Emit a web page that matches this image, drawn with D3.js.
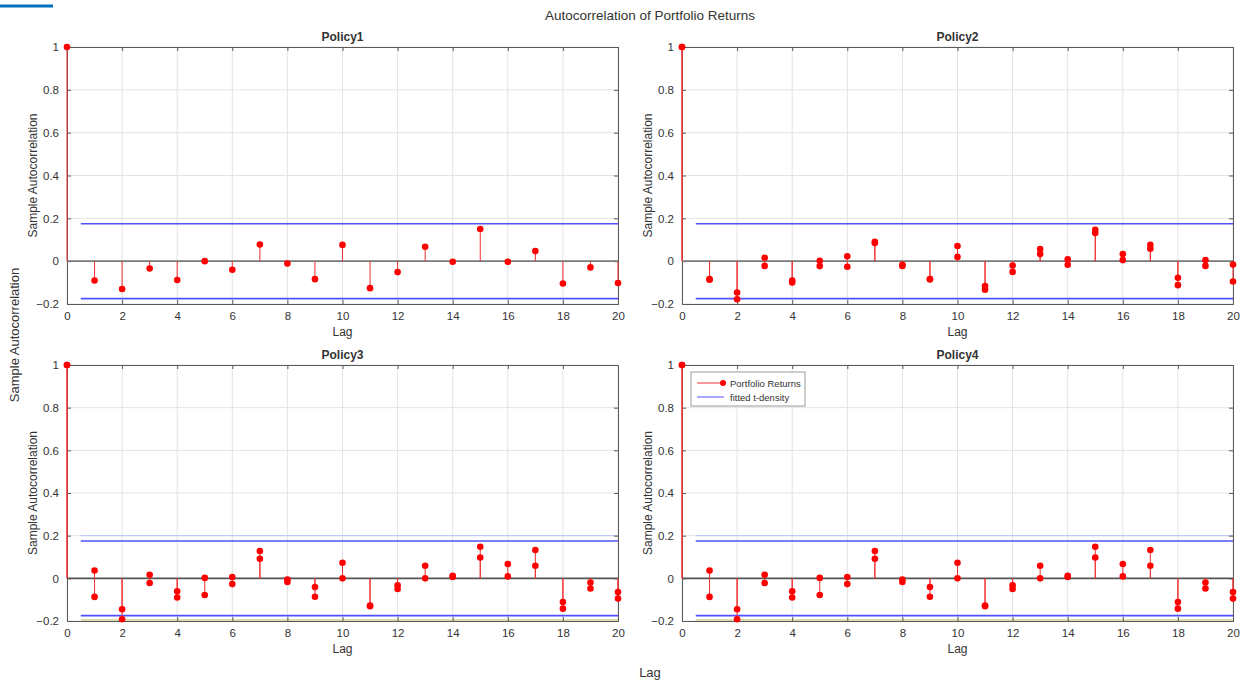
<!DOCTYPE html>
<html>
<head>
<meta charset="utf-8">
<script src="https://cdn.jsdelivr.net/npm/d3@7"></script>
<style>
  body { margin: 0; background: #fff; }
  svg text { font-family: "Liberation Sans", Arial, sans-serif; fill: #333; }
</style>
</head>
<body>
<div id="chart"></div>
<script>
const lags = d3.range(0, 21);
const yTicks = [-0.2, 0, 0.2, 0.4, 0.6, 0.8, 1];
const xTicks = d3.range(0, 21, 2);
const confBound = 0.175;

// Policy1: one series
const policy1A = [1, -0.09, -0.13, -0.034, -0.088, 0.0, -0.04, 0.078, -0.011, -0.084, 0.076,
                  -0.126, -0.051, 0.067, -0.003, 0.15, -0.003, 0.047, -0.104, -0.029, -0.102];
// Policy2: two series
const policy2A = [1, -0.084, -0.146, 0.016, -0.09, 0.002, 0.023, 0.09, -0.017, -0.084, 0.071,
                  -0.116, -0.02, 0.057, 0.009, 0.147, 0.033, 0.076, -0.078, 0.005, -0.016];
const policy2B = [1, -0.087, -0.178, -0.022, -0.1, -0.023, -0.026, 0.085, -0.022, -0.085, 0.02,
                  -0.133, -0.05, 0.033, -0.017, 0.132, 0.005, 0.058, -0.112, -0.022, -0.095];
// Policy3: two series
const policy3A = [1, 0.037, -0.145, 0.017, -0.061, 0.002, 0.006, 0.128, -0.006, -0.041, 0.073,
                  -0.127, -0.033, 0.059, 0.012, 0.148, 0.067, 0.133, -0.111, -0.02, -0.064];
const policy3B = [1, -0.087, -0.192, -0.022, -0.09, -0.078, -0.027, 0.092, -0.017, -0.086, 0.0,
                  -0.131, -0.05, 0.0, 0.006, 0.098, 0.009, 0.059, -0.142, -0.048, -0.095];
// Policy4: two series
const policy4A = [1, 0.037, -0.145, 0.017, -0.061, 0.002, 0.006, 0.128, -0.006, -0.041, 0.073,
                  -0.127, -0.033, 0.059, 0.012, 0.148, 0.067, 0.133, -0.111, -0.02, -0.064];
const policy4B = [1, -0.087, -0.192, -0.022, -0.09, -0.078, -0.027, 0.092, -0.017, -0.086, 0.0,
                  -0.131, -0.05, 0.0, 0.006, 0.098, 0.009, 0.059, -0.142, -0.048, -0.095];

const panelTitles = ["Policy1", "Policy2", "Policy3", "Policy4"];
const panelSeries = [[policy1A], [policy2A, policy2B], [policy3A, policy3B], [policy4A, policy4B]];

const width = 1248, height = 684;
const panelBoxes = [
    {x0: 67, x1: 618, y0: 47, y1: 304},
    {x0: 682, x1: 1233, y0: 47, y1: 304},
    {x0: 67, x1: 618, y0: 365, y1: 621},
    {x0: 682, x1: 1233, y0: 365, y1: 621}
];

const svg = d3.select("#chart").append("svg")
    .attr("width", width)
    .attr("height", height);

// little blue bar in the corner
svg.append("line")
    .attr("x1", 0).attr("x2", 53).attr("y1", 6).attr("y2", 6)
    .attr("stroke", "#0072bd").attr("stroke-width", 3);

svg.append("text")
    .attr("x", 650).attr("y", 20)
    .attr("text-anchor", "middle")
    .style("font-size", "13.5px")
    .text("Autocorrelation of Portfolio Returns");

svg.append("text")
    .attr("transform", "translate(19,335) rotate(-90)")
    .attr("text-anchor", "middle")
    .style("font-size", "13px")
    .text("Sample Autocorrelation");

svg.append("text")
    .attr("x", 650).attr("y", 677)
    .attr("text-anchor", "middle")
    .style("font-size", "13px")
    .text("Lag");

panelBoxes.forEach((b, i) => {
    const x = d3.scaleLinear().domain([0, 20]).range([b.x0, b.x1]);
    const y = d3.scaleLinear().domain([-0.2, 1]).range([b.y1, b.y0]);
    const g = svg.append("g");
    const bottomRow = i >= 2;

    // grid
    g.append("g").selectAll("line").data(xTicks).join("line")
        .attr("x1", d => x(d)).attr("x2", d => x(d))
        .attr("y1", b.y0).attr("y2", b.y1)
        .attr("stroke", "#e3e3e3");
    g.append("g").selectAll("line").data(yTicks).join("line")
        .attr("x1", b.x0).attr("x2", b.x1)
        .attr("y1", d => y(d)).attr("y2", d => y(d))
        .attr("stroke", "#e3e3e3");

    if (bottomRow) {
        g.append("line")
            .attr("x1", x(0.5)).attr("x2", x(20))
            .attr("y1", y(0.2)).attr("y2", y(0.2))
            .attr("stroke", "#b8c2ff").attr("stroke-width", 1);
        g.append("line")
            .attr("x1", x(0.5)).attr("x2", x(20))
            .attr("y1", y(-0.2) - 1).attr("y2", y(-0.2) - 1)
            .attr("stroke", "#d6cf96").attr("stroke-width", 1.5);
    }

    // axes with inward ticks
    const axB = g.append("g").attr("transform", `translate(0,${b.y1})`)
        .call(d3.axisBottom(x).tickValues(xTicks).tickSize(-4).tickPadding(8).tickFormat(d3.format("d")));
    const axL = g.append("g").attr("transform", `translate(${b.x0},0)`)
        .call(d3.axisLeft(y).tickValues(yTicks).tickSize(-4).tickPadding(8).tickFormat(d => d === 0 ? "0" : d3.format("")(+d.toFixed(1))));
    const axT = g.append("g").attr("transform", `translate(0,${b.y0})`)
        .call(d3.axisTop(x).tickValues(xTicks).tickSize(-4).tickFormat(""));
    const axR = g.append("g").attr("transform", `translate(${b.x1},0)`)
        .call(d3.axisRight(y).tickValues(yTicks).tickSize(-4).tickFormat(""));
    [axB, axL, axT, axR].forEach(a => {
        a.select(".domain").attr("stroke", "#5a5a5a");
        a.selectAll(".tick line").attr("stroke", "#5a5a5a");
        a.selectAll("text").style("font-size", "11.5px").attr("fill", "#333");
    });

    // zero line
    g.append("line")
        .attr("x1", b.x0).attr("x2", b.x1)
        .attr("y1", y(0)).attr("y2", y(0))
        .attr("stroke", bottomRow ? "#555" : "#7a7a7a").attr("stroke-width", 1.6);

    // confidence bounds
    [confBound, -confBound].forEach(c => {
        g.append("line")
            .attr("x1", x(0.5)).attr("x2", x(20))
            .attr("y1", y(c)).attr("y2", y(c))
            .attr("stroke", "#5050ff").attr("stroke-width", 1.6);
    });

    // stems and markers
    panelSeries[i].forEach(vals => {
        g.append("g").selectAll("line").data(lags).join("line")
            .attr("x1", d => x(d)).attr("x2", d => x(d))
            .attr("y1", y(0)).attr("y2", d => y(vals[d]))
            .attr("stroke", "#f03030").attr("stroke-width", 1);
    });
    panelSeries[i].forEach(vals => {
        g.append("g").selectAll("circle").data(lags).join("circle")
            .attr("cx", d => x(d)).attr("cy", d => y(vals[d]))
            .attr("r", 3.3)
            .attr("fill", "#ff0000");
    });

    // labels
    g.append("text")
        .attr("x", (b.x0 + b.x1) / 2).attr("y", b.y0 - 6)
        .attr("text-anchor", "middle")
        .style("font-size", "12px").style("font-weight", "bold")
        .attr("fill", "#222")
        .text(panelTitles[i]);
    g.append("text")
        .attr("x", (b.x0 + b.x1) / 2).attr("y", b.y1 + 32)
        .attr("text-anchor", "middle")
        .style("font-size", "12px")
        .text("Lag");
    g.append("text")
        .attr("transform", `translate(${b.x0 - 30},${(b.y0 + b.y1) / 2}) rotate(-90)`)
        .attr("text-anchor", "middle")
        .style("font-size", "12px")
        .text("Sample Autocorrelation");

    if (i === 3) {
        const lg = g.append("g").attr("transform", "translate(691,372)");
        lg.append("rect").attr("width", 114).attr("height", 34)
            .attr("fill", "#fff").attr("stroke", "#999");
        lg.append("line").attr("x1", 6).attr("x2", 32).attr("y1", 11).attr("y2", 11)
            .attr("stroke", "#f03030");
        lg.append("circle").attr("cx", 32).attr("cy", 11).attr("r", 3).attr("fill", "#ff0000");
        lg.append("text").attr("x", 39).attr("y", 14.5).style("font-size", "9.5px").text("Portfolio Returns");
        lg.append("line").attr("x1", 6).attr("x2", 33).attr("y1", 25).attr("y2", 25)
            .attr("stroke", "#5050ff");
        lg.append("text").attr("x", 39).attr("y", 28.5).style("font-size", "9.5px").text("fitted t-density");
    }
});
</script>
</body>
</html>
